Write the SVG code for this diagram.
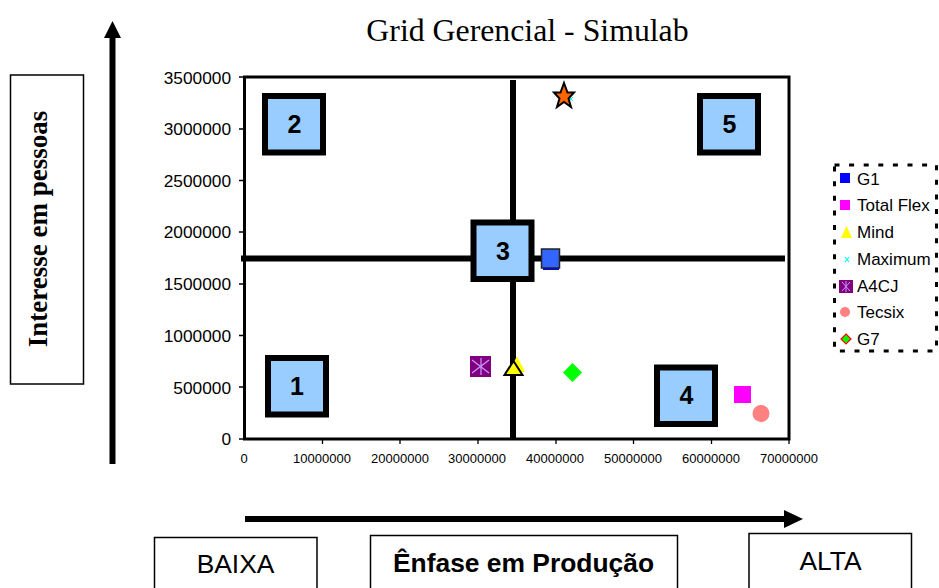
<svg xmlns="http://www.w3.org/2000/svg" width="939" height="588" viewBox="0 0 939 588">
<style>
text{font-family:"Liberation Sans",Arial,sans-serif;fill:#000}
.yt{font-size:17.300px;text-anchor:end}
.xt{font-size:13px;text-anchor:middle}
.lg{font-size:17px}
.q rect{fill:#99ccff;stroke:#000;stroke-width:6}
.q text{font-size:25px;font-weight:bold;text-anchor:middle}
.box rect{fill:#fff;stroke:#000;stroke-width:1.5}
.tick{stroke:#000;stroke-width:1.3}
</style>
<rect width="939" height="588" fill="#fff"/>
<text x="527.500" y="41" text-anchor="middle" style="font-family:'Liberation Serif',serif;font-size:31.800px">Grid Gerencial - Simulab</text>
<g id="plot">
<rect x="244.500" y="77" width="544.500" height="362" fill="#fff" stroke="#000" stroke-width="3"/>
<path class="tick" d="M239 77h5M239 129h5M239 180.500h5M239 232h5M239 284h5M239 335.500h5M239 387h5M239 439h5M322.500 439v5M400 439v5M478 439v5M556 439v5M633.500 439v5M711.500 439v5M789 439v5"/>
<text class="yt" x="231" y="84">3500000</text>
<text class="yt" x="231" y="135">3000000</text>
<text class="yt" x="231" y="187">2500000</text>
<text class="yt" x="231" y="238">2000000</text>
<text class="yt" x="231" y="290">1500000</text>
<text class="yt" x="231" y="342">1000000</text>
<text class="yt" x="231" y="394">500000</text>
<text class="yt" x="231" y="445">0</text>
<text class="xt" x="244" y="463">0</text>
<text class="xt" x="322" y="463">10000000</text>
<text class="xt" x="400" y="463">20000000</text>
<text class="xt" x="477" y="463">30000000</text>
<text class="xt" x="555" y="463">40000000</text>
<text class="xt" x="633" y="463">50000000</text>
<text class="xt" x="711" y="463">60000000</text>
<text class="xt" x="789" y="463">70000000</text>
</g>
<g id="connectors" stroke="#000" fill="none">
<path d="M241 258.500H785" stroke-width="6"/>
<path d="M513 80V439" stroke-width="6"/>
<path d="M112.500 464V38" stroke-width="6"/>
<path d="M245 519H786" stroke-width="6"/>
<path d="M112.500 21L104 38H121Z" fill="#000" stroke="none"/>
<path d="M803 519L784 510V528Z" fill="#000" stroke="none"/>
</g>
<g id="markers">
<rect x="543" y="254" width="16" height="16" fill="#0000ff"/>
<polygon points="517,356 525,372 509,372" fill="#ffff00"/>
<rect x="470" y="356" width="21" height="21" fill="#800080"/>
<path d="M481 358V375M472 360L489 373M489 360L472 373" stroke="#cc99ff" stroke-width="1.200" fill="none"/>
<polygon points="572.500,363 582,372.500 572.500,382 563,372.500" fill="#00ff00"/>
<rect x="734" y="386" width="17" height="17" fill="#ff00ff"/>
<circle cx="761" cy="413.500" r="8.500" fill="#ff8080"/>
<path d="M569 97l4 4M573 97l-4 4" stroke="#00ffff" stroke-width="1" fill="none"/>
<rect x="541.500" y="249" width="18" height="19" fill="#3366ff" stroke="#222" stroke-width="1.500"/>
<polygon points="513.500,361 522.500,375 504.500,375" fill="#ffff00" stroke="#000" stroke-width="2"/>
<polygon points="564,83 567.500,92.500 574,92.500 568.500,98.500 571,107 564,102 557,107 559.500,98.500 554,92.500 560.500,92.500" fill="#ff6600" stroke="#000" stroke-width="2"/>
</g>
<g id="q2" class="q"><rect x="265" y="96" width="58" height="56.500"/><text x="294.500" y="133">2</text></g>
<g id="q5" class="q"><rect x="700" y="96" width="58" height="56.500"/><text x="729.500" y="133">5</text></g>
<g id="q3" class="q"><rect x="473.500" y="222.500" width="58" height="56.500"/><text x="503" y="260">3</text></g>
<g id="q1" class="q"><rect x="268" y="358" width="58" height="56.500"/><text x="297" y="395">1</text></g>
<g id="q4" class="q"><rect x="657" y="367.500" width="58" height="56.500"/><text x="686.500" y="404">4</text></g>
<g id="legend">
<rect x="834.500" y="165" width="102" height="186" fill="#fff" stroke="#000" stroke-width="3" stroke-dasharray="5 9.600"/>
<rect x="840" y="173" width="10" height="10" fill="#0000ff"/><text class="lg" x="857" y="185">G1</text>
<rect x="840" y="200" width="10" height="10" fill="#ff00ff"/><text class="lg" x="857" y="211">Total Flex</text>
<polygon points="846.500,226 852,238 841,238" fill="#ffff00"/><text class="lg" x="857" y="238">Mind</text>
<path d="M845 257l4 5M849 257l-4 5" stroke="#00ffff" stroke-width="1.200" fill="none"/><text class="lg" x="857" y="265">Maximum</text>
<rect x="839" y="280" width="14" height="13" fill="#800080"/><path d="M846 281V292M842 282L850 291M850 282L842 291" stroke="#cc99ff" stroke-width="1" fill="none"/><text class="lg" x="857" y="292">A4CJ</text>
<circle cx="845" cy="312" r="5" fill="#ff8080"/><text class="lg" x="857" y="318">Tecsix</text>
<polygon points="846,334 851,339 846,344 841,339" fill="#00ff00" stroke="#ff0000" stroke-width="1.200"/><text class="lg" x="857" y="345">G7</text>
</g>
<g id="ylabel" class="box"><rect x="10.500" y="75" width="73" height="309"/><text transform="translate(47 229) rotate(-90)" text-anchor="middle" style="font-family:'Liberation Serif',serif;font-size:27px;font-weight:bold">Interesse em pessoas</text></g>
<g id="baixa" class="box"><rect x="154.500" y="537.500" width="162.500" height="60"/><text x="235.500" y="573" text-anchor="middle" style="font-size:26.400px">BAIXA</text></g>
<g id="enfase" class="box"><rect x="370.500" y="535.500" width="307" height="62"/><text x="523.500" y="572" text-anchor="middle" style="font-size:26.400px;font-weight:bold">Ênfase em Produção</text></g>
<g id="alta" class="box"><rect x="749" y="533.500" width="162.500" height="64"/><text x="830.500" y="570" text-anchor="middle" style="font-size:26.400px">ALTA</text></g>
</svg>
